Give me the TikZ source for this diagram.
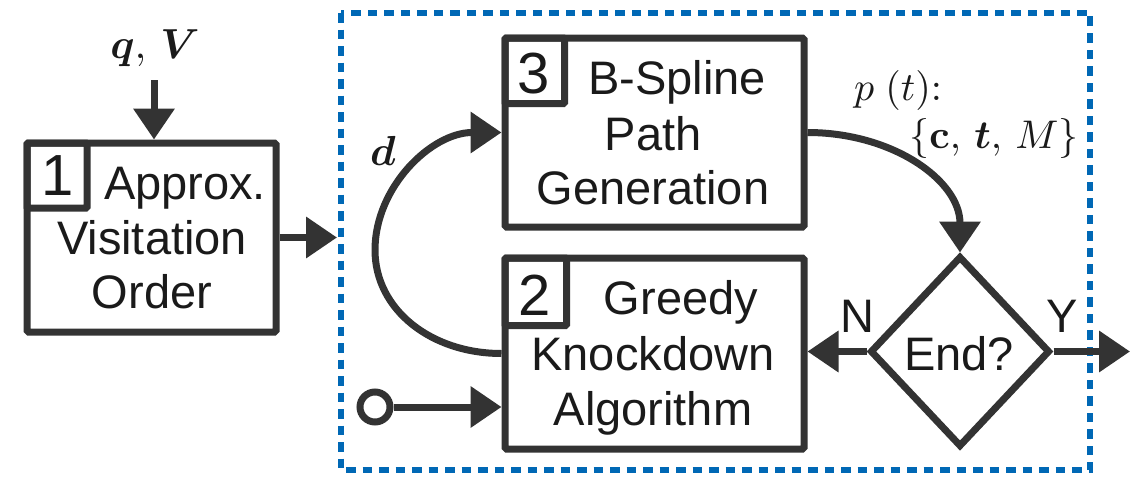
\documentclass[tikz,border=0pt]{standalone}
\usepackage{amsmath}
\usepackage{bm}
\usepackage[no-math]{fontspec}
\setmainfont{Liberation Sans}
\usetikzlibrary{arrows.meta,shapes.geometric}
\definecolor{ink}{HTML}{333333}
\definecolor{txt}{HTML}{1A1A1A}
\definecolor{dashblue}{HTML}{0068B5}
\newcommand\txtsz{\fontsize{47}{55}\selectfont}
\newcommand\digsz{\fontsize{58}{64}\selectfont}
\begin{document}
\begin{tikzpicture}[x=1pt,y=-1pt,
  box/.style={draw=ink,line width=7pt,rounded corners=1.5pt,minimum width=299pt,minimum height=189pt,inner sep=0pt,fill=white},
  numbox/.style={draw=ink,line width=7pt,rounded corners=1pt,inner sep=0pt,outer sep=0pt},
  lbl/.style={inner sep=0pt,anchor=base,text=txt},
  mbig/.style={lbl,scale=4.2},
  mmid/.style={lbl,scale=4.0},
  arr/.style={draw=ink,line width=7pt,-{Triangle[length=31pt,width=40pt]}},
  dashbox/.style={draw=dashblue,line width=5.5pt,dash pattern=on 9.5pt off 7pt}]
\useasboundingbox (0,0) rectangle (1130,479);
% dashed frame
\draw[dashbox] (341,13) rectangle (1090,470);
% box 1
\node[box,minimum width=249pt,minimum height=189pt] (b1) at (151.5,237.5) {};
\node[numbox,minimum width=60pt,minimum height=65pt] (n1) at (57,175.5) {};
\node[lbl,font=\digsz] (d1) at (57.5,195) {1};
\node[lbl,font=\txtsz] (t1a) at (185,199) {Approx.};
\node[lbl,font=\txtsz] (t1b) at (152,254) {Visitation};
\node[lbl,font=\txtsz] (t1c) at (152,308) {Order};
% box 3
\node[box] (b3) at (654.5,132.5) {};
\node[numbox,minimum width=59.5pt,minimum height=65.5pt] (n3) at (534.75,70.75) {};
\node[lbl,font=\digsz] (d3) at (534,93) {3};
\node[lbl,font=\txtsz] (t3a) at (677,94) {B-Spline};
\node[lbl,font=\txtsz] (t3b) at (653,150) {Path};
\node[lbl,font=\txtsz] (t3c) at (653,204) {Generation};
% box 2
\node[box,minimum height=191pt] (b2) at (654.5,353.5) {};
\node[numbox,minimum width=61.5pt,minimum height=67.5pt] (n2) at (535.75,291.75) {};
\node[lbl,font=\digsz] (d2) at (535,315) {2};
\node[lbl,font=\txtsz] (t2a) at (681,314) {Greedy};
\node[lbl,font=\txtsz] (t2b) at (653,370) {Knockdown};
\node[lbl,font=\txtsz] (t2c) at (653,425) {Algorithm};
% diamond
\node[draw=ink,line width=7pt,shape=diamond,minimum width=180pt,minimum height=191pt,inner sep=0pt] (dia) at (960,351.5) {};
\node[lbl,font=\txtsz] (tend) at (959,370) {End?};
% small circle
\node[draw=ink,line width=7pt,circle,minimum size=30pt,inner sep=0pt,fill=white] (circ) at (375,407) {};
% math labels
\node[mbig] (qv) at (155,58) {$\bm{q},\,\bm{V}$};
\node[mbig] (dl) at (383,165) {$\bm{d}$};
\node[mmid] (pt) at (898,100) {$p\;(t){:}$};
\node[mmid] (cts) at (994,148) {$\{\mathbf{c},\,\bm{t},\,M\}$};
\node[lbl,font=\txtsz] (nl) at (857,332) {N};
\node[lbl,font=\txtsz] (yl) at (1062,332) {Y};
% coordinates
\coordinate (qin) at (154,80);
\coordinate (b1out) at (337,237.5);
\coordinate (loopl) at (375,250);
\coordinate (yend) at (1130,351.5);
% connectors
\draw[arr] (qin) -- (qin |- b1.north);
\draw[arr] (b1.east) -- (b1out);
\draw[arr] (b2.west) .. controls +(-70,0) and +(0,60) .. (loopl) .. controls +(0,-63) and +(-70,0) .. (b3.west);
\draw[arr] (b3.east) .. controls +(85,0) and +(0,-72) .. (dia.north);
\draw[arr] (dia.west) -- (dia.west -| b2.east);
\draw[arr] (dia.east) -- (yend);
\draw[arr] (circ) -- (circ -| b2.west);
\end{tikzpicture}
\end{document}
